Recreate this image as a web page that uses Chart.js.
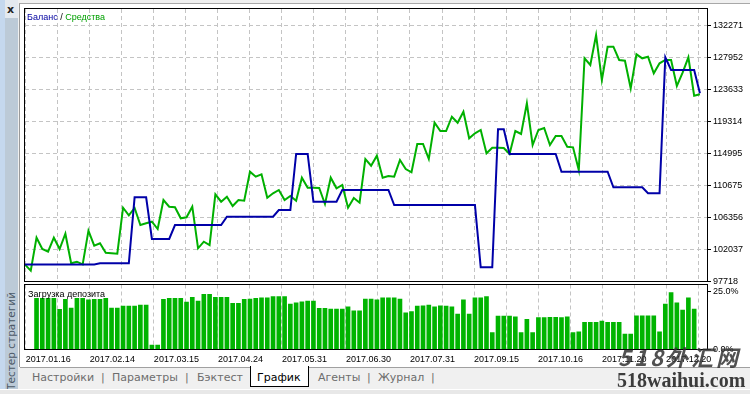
<!DOCTYPE html>
<html>
<head>
<meta charset="utf-8">
<script src="https://cdn.jsdelivr.net/npm/chart.js@4.4.0/dist/chart.umd.min.js"></script>
<style>
  body { margin: 0; width: 750px; height: 394px; overflow: hidden; background: #f0f0f0; position: relative; font-family: "Liberation Sans", sans-serif; }
  .abs { position: absolute; line-height: 1; }
  #stripA { left: 0; top: 0; width: 5px; height: 394px; background: #c5d8ee; }
  #stripB { left: 5px; top: 18px; width: 13px; height: 372px; background: #bccad7; }
  #stripTop { left: 5px; top: 0; width: 13px; height: 18px; background: #e4e9ef; }
  #closeX { left: 7px; top: 3px; font: bold 11px "DejaVu Sans"; color: #222; }
  #vtext { left: 11px; top: 341px; transform: translate(-50%, -50%) rotate(-90deg); font: 10.5px "DejaVu Sans"; color: #4b5866; white-space: nowrap; }
  #panel { left: 19px; top: 3px; width: 731px; height: 363px; background: #fff; border-left: 1px solid #9a9a9a; border-top: 1px solid #a8a8a8; }
  #tabs { left: 20px; top: 367px; width: 730px; height: 21px; background: #f0f0f0; border-top: 1px solid #a0a0a0; }
  #bottomLine { left: 0; top: 389px; width: 750px; height: 5px; background: #e8e8e8; border-top: 1px solid #fff; }
  .tab { position: absolute; top: 372px; font: 11px "DejaVu Sans"; line-height: 1; color: #6d6d6d; white-space: nowrap; }
  #active { left: 250px; top: 366px; width: 57px; height: 20px; background: #fff; border: 1px solid #000; border-top: none; }
  #title { left: 27px; top: 12px; font: 9px "Liberation Sans"; white-space: nowrap; }
  #subTitle { left: 28px; top: 289px; font: 9px "Liberation Sans"; color: #000; white-space: nowrap; }
  canvas { position: absolute; left: 0; }
  #wm1 { left: 618px; top: 340px; font: italic bold 22px "Noto Sans CJK SC"; color: rgba(50,50,50,0.85); letter-spacing: 3px; white-space: nowrap; }
  #wm2 { left: 617px; top: 369px; font: bold 20px "Liberation Serif"; color: #3c3c3c; white-space: nowrap; }
</style>
</head>
<body>
<div id="stripA" class="abs"></div>
<div id="stripTop" class="abs"></div>
<div id="stripB" class="abs"></div>
<div id="closeX" class="abs">x</div>
<div id="vtext" class="abs">Тестер стратегий</div>
<div id="panel" class="abs"></div>
<div id="tabs" class="abs"></div>
<div id="bottomLine" class="abs"></div>
<div id="active" class="abs"></div>
<span class="tab" style="left:32px">Настройки</span>
<span class="tab" style="left:101px">|</span>
<span class="tab" style="left:112px">Параметры</span>
<span class="tab" style="left:185px">|</span>
<span class="tab" style="left:197px">Бэктест</span>
<span class="tab" style="left:257px;color:#000">График</span>
<span class="tab" style="left:318px">Агенты</span>
<span class="tab" style="left:367px">|</span>
<span class="tab" style="left:378px">Журнал</span>
<span class="tab" style="left:431px">|</span>

<canvas id="mainChart" width="750" height="290" style="top:0"></canvas>
<canvas id="loadChart" width="750" height="83" style="top:283px"></canvas>

<div id="title" class="abs"><span style="color:#0000a0">Баланс</span> / <span style="color:#00a000">Средства</span></div>
<div id="subTitle" class="abs">Загрузка депозита</div>
<div id="wm1" class="abs">518外汇网</div>
<div id="wm2" class="abs">518waihui.com</div>

<script>
// tick labels
const dates = ['2017.01.16', '2017.02.14', '2017.03.15', '2017.04.24', '2017.05.31', '2017.06.30',
  '2017.07.31', '2017.09.15', '2017.10.16', '2017.11.20', '2017.12.20'];
const yTicks = [97718, 102037, 106356, 110675, 114995, 119314, 123633, 127952, 132271];
const loadTicks = [0, 25];

// balance per deal
const balance = [
  100000, 100000, 100000, 100000, 100000, 100000, 100000, 100000, 100000, 100000,
  100000, 100000, 100000, 100170, 100170, 100170, 100170, 100170, 100170, 109061,
  109061, 109061, 103444, 103444, 103444, 103444, 105330, 105330, 105330, 105330,
  105330, 105330, 105330, 105330, 105330, 106448, 106448, 106448, 106448, 106448,
  106448, 106448, 106448, 106448, 107350, 107350, 107350, 114895, 114895, 114895,
  108469, 108469, 108469, 108469, 108469, 110045, 110045, 110045, 110045, 110045,
  110045, 110045, 110045, 110045, 108024, 108024, 108024, 108024, 108024, 108024,
  108024, 108024, 108024, 108024, 108024, 108024, 108024, 108024, 108024, 99631,
  99631, 99631, 118222, 118222, 114895, 114895, 114895, 114895, 114895, 114895,
  114895, 114895, 114895, 112510, 112510, 112510, 112510, 112510, 112510, 112510,
  112510, 112510, 110409, 110409, 110409, 110409, 110409, 110409, 109600, 109600,
  109600, 127922, 126211, 126211, 126211, 126211, 126211, 123072
];

// equity per deal
const equity = [
  100000, 99173, 103619, 102096, 101733, 103619, 102096, 104158, 100170, 100386,
  100035, 104562, 102541, 102864, 101598, 101531, 101463, 107660, 106637, 107620,
  105330, 105559, 105774, 104791, 108698, 107795, 107714, 106232, 106367, 107795,
  102191, 103080, 102635, 109466, 108469, 109142, 107889, 108698, 108603, 112510,
  111837, 112160, 109008, 109600, 110045, 108698, 109237, 108603, 111702, 110355,
  110355, 110314, 108159, 111702, 110274, 110719, 107660, 108967, 108334, 114221,
  113319, 114666, 111702, 111931, 111837, 114086, 112874, 112429, 116242, 116242,
  114221, 119111, 117993, 117993, 119920, 119111, 120593, 117010, 117683, 118128,
  114989, 115743, 115743, 115703, 114895, 117993, 117589, 121725, 116107, 118128,
  118398, 116107, 117320, 117320, 115878, 115797, 112739, 127788, 126885, 130927,
  124864, 129350, 129350, 127559, 127464, 123746, 128326, 127788, 128003, 125767,
  127114, 127559, 127559, 124056, 125847, 127922, 122749, 122938
];

// deposit load, %
const load = [
  null, null,
  21.9, 21.9, 21.9, 21.9, 17.2, 21.5, 17.7, 21.9, 21.9, 21.2,
  21.5, 21.5, 21.9, 17.7, 17.7, 18.6, 18.6, 18.6, 19.0, 19.0,
  1.9, 1.9, 21.5, 21.9, 21.9, 21.9, 20.3, 22.3, 20.7, 23.6,
  23.6, 22.3, 22.3, 22.3, 19.7, 19.7, 21.5, 21.6, 21.9, 22.1,
  22.1, 22.6, 22.6, 22.6, 19.4, 20.0, 20.4, 20.7, 20.7, 17.6,
  17.6, 17.3, 17.3, 17.3, 18.3, 16.5, 16.5, 21.6, 21.6, 21.2,
  22.1, 22.1, 22.1, 21.6, 15.7, 16.2, 18.6, 18.7, 19.0, 18.3,
  18.7, 18.6, 18.3, 15.2, 21.2, 15.2, 22.1, 22.1, 22.6, 7.2,
  14.3, 14.3, 14.3, 14.0, 7.2, 12.9, 7.2, 13.6, 13.6, 13.8,
  13.8, 13.6, 14.0, 7.2, 7.6, 11.6, 11.6, 11.6, 12.2, 11.6,
  11.6, 11.6, 6.6, 6.6, 14.4, 14.4, 14.4, 14.4, 7.6, 19.4,
  24.3, 20.0, 16.9, 22.1, 17.3, null
];

const xMax = 118.4;      // deals across the plot width
const gridStart = 0.14;
const gridStep = 5.55;    // deals between vertical grid lines
const yStep = (yTicks[yTicks.length - 1] - yTicks[0]) / (yTicks.length - 1);
const yMax = yTicks[0] + 8.5 * yStep;

const gridColor = '#c4c4c4';
const tickFont = { family: 'Liberation Sans', size: 9 };

function gridTicks(scale) {
  scale.ticks = [];
  for (let k = 0; gridStart + k * gridStep <= scale.max; k++) {
    scale.ticks.push({ value: gridStart + k * gridStep });
  }
}

// fixed axis sizes, no label overhang padding
function fixSize(w, h) {
  return s => {
    if (w !== null) s.width = w;
    if (h !== null) s.height = h;
    s.paddingLeft = s.paddingRight = s.paddingTop = s.paddingBottom = 0;
  };
}

const frame = {
  id: 'frame',
  afterDraw(chart) {
    const a = chart.chartArea;
    const ctx = chart.ctx;
    ctx.save();
    ctx.strokeStyle = '#000';
    ctx.lineWidth = 1;
    ctx.strokeRect(Math.round(a.left) - 0.5, Math.round(a.top) - 0.5,
      Math.round(a.right - a.left), Math.round(a.bottom - a.top));
    ctx.restore();
  }
};

const pts = arr => arr.map((v, i) => ({ x: i, y: v }));

new Chart(document.getElementById('mainChart'), {
  type: 'line',
  data: {
    datasets: [
      { label: 'Баланс', data: pts(balance), borderColor: '#0000a8', borderWidth: 2, pointRadius: 0, tension: 0 },
      { label: 'Средства', data: pts(equity), borderColor: '#00b000', borderWidth: 2, pointRadius: 0, tension: 0 }
    ]
  },
  options: {
    responsive: false,
    animation: false,
    devicePixelRatio: 1,
    layout: { padding: { left: 25, top: 9, right: 0, bottom: 8.5 } },
    plugins: { legend: { display: false }, tooltip: { enabled: false } },
    scales: {
      x: {
        type: 'linear', min: 0, max: xMax, offset: false,
        afterBuildTicks: gridTicks,
        afterFit: fixSize(null, 0),
        ticks: { display: false },
        grid: { color: gridColor, drawTicks: false, offset: false },
        border: { display: false, dash: [4, 3] }
      },
      y: {
        position: 'right', min: yTicks[0], max: yMax,
        afterBuildTicks: s => { s.ticks = yTicks.map(v => ({ value: v })); },
        afterFit: fixSize(42, null),
        ticks: { font: tickFont, color: '#000', padding: 2, callback: v => Math.round(v) },
        grid: { color: gridColor, tickLength: 3, tickColor: '#000' },
        border: { display: false, dash: [4, 3] }
      }
    }
  },
  plugins: [frame]
});

new Chart(document.getElementById('loadChart'), {
  type: 'bar',
  data: {
    datasets: [
      { label: 'Загрузка депозита', data: pts(load), backgroundColor: '#00b400', barThickness: 4 }
    ]
  },
  options: {
    responsive: false,
    animation: false,
    devicePixelRatio: 1,
    layout: { padding: { left: 25, top: 1.5, right: 0, bottom: 0 } },
    plugins: { legend: { display: false }, tooltip: { enabled: false } },
    scales: {
      x: {
        type: 'linear', min: 0, max: xMax, offset: false,
        afterBuildTicks: gridTicks,
        afterFit: fixSize(null, 16.5),
        ticks: {
          font: tickFont, color: '#000', align: 'start', autoSkip: false, maxRotation: 0, padding: 5,
          callback: (v, k) => (k % 2 === 0 ? dates[k / 2] : '')
        },
        grid: { color: gridColor, drawTicks: false, offset: false },
        border: { display: false, dash: [4, 3] }
      },
      y: {
        position: 'right', min: 0, max: 27.8,
        afterBuildTicks: s => { s.ticks = loadTicks.map(v => ({ value: v })); },
        afterFit: fixSize(42, null),
        ticks: { font: tickFont, color: '#000', padding: 2, callback: v => v.toFixed(1) + '%' },
        grid: { drawOnChartArea: false, tickLength: 3, tickColor: '#000' },
        border: { display: false }
      }
    }
  },
  plugins: [frame]
});
</script>
</body>
</html>
